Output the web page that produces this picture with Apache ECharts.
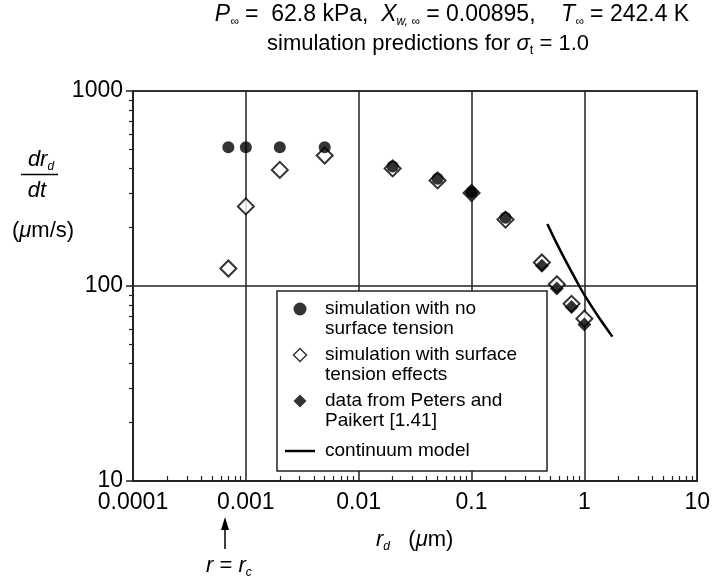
<!DOCTYPE html>
<html>
<head>
<meta charset="utf-8">
<script src="https://cdn.jsdelivr.net/npm/echarts@6/dist/echarts.min.js"></script>
<style>
  html, body { margin: 0; padding: 0; background: #fff; }
  #chart { width: 713px; height: 576px; }
</style>
</head>
<body>
<div id="chart"></div>
<script>
const FONT = "'Liberation Sans', Arial, sans-serif";

// r_d (um) and dr_d/dt (um/s)
const noTensionR = [0.0007, 0.001, 0.002, 0.005, 0.02, 0.05, 0.1, 0.2];
const noTensionV = [515, 515, 515, 515, 410, 355, 303, 224];

const tensionR = [0.0007, 0.001, 0.002, 0.005, 0.02, 0.05, 0.1, 0.2, 0.42, 0.57, 0.77, 1.0];
const tensionV = [123, 256, 394, 467, 401, 348, 300, 219, 132, 102, 81, 68];

const petersR = [0.1, 0.42, 0.57, 0.77, 1.0];
const petersV = [300, 127, 97, 78, 63.5];

const continuumR = [0.47, 0.55, 0.7, 0.885, 1.0, 1.3, 1.77];
const continuumV = [208, 172, 131, 102, 90, 71, 55];

const xTickValues = [0.0001, 0.001, 0.01, 0.1, 1, 10];
const xTickLabels = ["0.0001", "0.001", "0.01", "0.1", "1", "10"];
const yTickValues = [10, 100, 1000];
const yTickLabels = ["10", "100", "1000"];
const minorMult = [2, 3, 4, 5, 6, 7, 8, 9];

const names = [
  "simulation with no\nsurface tension",
  "simulation with surface\ntension effects",
  "data from Peters and\nPaikert [1.41]",
  "continuum model"
];

const pairs = (xs, ys) => xs.map((x, i) => [x, ys[i]]);
const minors = (decades) => decades.flatMap((d) => minorMult.map((m) => +(m * d).toPrecision(3)));
const labelOf = (vals, labels) => (v) => {
  const i = vals.findIndex((t) => Math.abs(Math.log10(t) - Math.log10(v)) < 1e-6);
  return i < 0 ? "" : labels[i];
};

const DIAMOND = "path://M7,0L14,7L7,14L0,7Z";

const chart = echarts.init(document.getElementById("chart"));

const rich = {
  n: { fontSize: 22, fontFamily: FONT, lineHeight: 26, color: "#000" },
  i: { fontSize: 22, fontFamily: FONT, fontStyle: "italic", lineHeight: 26, color: "#000" },
  s: { fontSize: 12, fontFamily: FONT, fontStyle: "italic", verticalAlign: "bottom", lineHeight: 10, color: "#000" },
  r: { fontSize: 13, fontFamily: FONT, verticalAlign: "bottom", lineHeight: 10, color: "#000" },
  tn: { fontSize: 23, fontFamily: FONT, lineHeight: 26, color: "#000" },
  ti: { fontSize: 23, fontFamily: FONT, fontStyle: "italic", lineHeight: 26, color: "#000" }
};

chart.setOption({
  animation: false,
  backgroundColor: "#fff",
  grid: { left: 133, right: 11, top: 91, bottom: 95, show: true, borderColor: "#222", borderWidth: 1.5 },
  xAxis: [
    {
      type: "log", logBase: 10, min: 0.0001, max: 10,
      axisLine: { lineStyle: { color: "#222", width: 1.5 } },
      axisTick: { show: false },
      axisLabel: { fontSize: 23, fontFamily: FONT, color: "#000", margin: 10, formatter: labelOf(xTickValues, xTickLabels) },
      splitLine: { show: true, lineStyle: { color: "#222", width: 1.5 } }
    },
    {
      type: "log", logBase: 10, min: 0.0001, max: 10, position: "bottom", offset: 0,
      axisLine: { show: false },
      axisTick: { show: true, inside: true, length: 5, lineStyle: { color: "#222", width: 1.2 }, customValues: minors([0.0001, 0.001, 0.01, 0.1, 1]) },
      axisLabel: { show: false },
      splitLine: { show: false }
    }
  ],
  yAxis: [
    {
      type: "log", logBase: 10, min: 10, max: 1000,
      axisLine: { lineStyle: { color: "#222", width: 1.5 } },
      axisTick: { show: true, length: 7, lineStyle: { color: "#222", width: 1.5 } },
      axisLabel: { fontSize: 23, fontFamily: FONT, color: "#000", margin: 10, formatter: labelOf(yTickValues, yTickLabels) },
      splitLine: { show: true, lineStyle: { color: "#222", width: 1.5 } }
    },
    {
      type: "log", logBase: 10, min: 10, max: 1000, position: "left", offset: 0,
      axisLine: { show: false },
      axisTick: { show: true, length: 4, lineStyle: { color: "#222", width: 1.2 }, customValues: minors([10, 100]) },
      axisLabel: { show: false },
      splitLine: { show: false }
    }
  ],
  legend: {
    orient: "vertical", left: 285, top: 279, padding: 0,
    itemWidth: 30, itemHeight: 13, itemGap: -14, symbolKeepAspect: true,
    // leading blank line keeps the icon level with the first text line
    formatter: (name) => (name.indexOf("\n") >= 0 ? "\n" + name : "\n" + name + "\n"),
    textStyle: { fontSize: 19, lineHeight: 20, fontFamily: FONT, color: "#000", padding: [0, 0, 0, 5] },
    data: [
      { name: names[0], icon: "circle", itemStyle: { color: "#000" } },
      { name: names[1], icon: DIAMOND, itemStyle: { color: "#fff", borderColor: "#000", borderWidth: 1.5 } },
      { name: names[2], icon: DIAMOND, itemStyle: { color: "#000" } },
      { name: names[3], icon: "path://M0,0L30,0L30,2.5L0,2.5Z", itemStyle: { color: "#000" }, textStyle: { padding: [8, 0, 0, 5] } }
    ]
  },
  series: [
    {
      name: names[1], type: "scatter", data: pairs(tensionR, tensionV), z: 2,
      symbol: "emptyDiamond", symbolSize: 16,
      itemStyle: { color: "#000", borderWidth: 1.5 }
    },
    {
      name: names[2], type: "scatter", data: pairs(petersR, petersV), z: 3,
      symbol: "diamond", symbolSize: 14, itemStyle: { color: "#000" }
    },
    {
      name: names[0], type: "scatter", data: pairs(noTensionR, noTensionV), z: 4,
      symbol: "circle", symbolSize: 12, itemStyle: { color: "#000" }
    },
    {
      name: names[3], type: "line", data: pairs(continuumR, continuumV), z: 4,
      smooth: 0.3, symbol: "none", lineStyle: { color: "#000", width: 2.5 }, itemStyle: { color: "#000" }
    }
  ],
  graphic: [
    // legend frame
    { type: "rect", z: 3, shape: { x: 277, y: 291, width: 270, height: 180 }, style: { fill: "#fff", stroke: "#222", lineWidth: 1.5 } },
    // title lines
    {
      type: "text", x: 452, y: 15, z: 10,
      style: {
        text: "{ti|P}{s|∞}{tn| =  62.8 kPa,  }{ti|X}{s|w, ∞}{tn| = 0.00895,    }{ti|T}{s|∞}{tn| = 242.4 K}",
        align: "center", verticalAlign: "middle", rich: rich
      }
    },
    {
      type: "text", x: 428, y: 44, z: 10,
      style: { text: "{n|simulation predictions for }{i|σ}{r|t}{n| = 1.0}", align: "center", verticalAlign: "middle", rich: rich }
    },
    // y axis name
    { type: "text", x: 41, y: 160, z: 10, style: { text: "{i|dr}{s|d}", align: "center", verticalAlign: "middle", rich: rich } },
    { type: "line", z: 10, shape: { x1: 21, y1: 174.5, x2: 58, y2: 174.5 }, style: { stroke: "#000", lineWidth: 1.5 } },
    { type: "text", x: 37, y: 191, z: 10, style: { text: "{i|dt}", align: "center", verticalAlign: "middle", rich: rich } },
    { type: "text", x: 43, y: 231, z: 10, style: { text: "{n|(}{i|μ}{n|m/s)}", align: "center", verticalAlign: "middle", rich: rich } },
    // x axis name
    { type: "text", x: 376, y: 540, z: 10, style: { text: "{i|r}{s|d}{n|   (}{i|μ}{n|m)}", align: "left", verticalAlign: "middle", rich: rich } },
    // r = r_c marker
    { type: "line", z: 10, shape: { x1: 225, y1: 527, x2: 225, y2: 549 }, style: { stroke: "#000", lineWidth: 1.5 } },
    { type: "polygon", z: 10, shape: { points: [[225, 517], [221, 530], [229, 530]] }, style: { fill: "#000" } },
    { type: "text", x: 206, y: 566, z: 10, style: { text: "{i|r}{n| = }{i|r}{s|c}", align: "left", verticalAlign: "middle", rich: rich } }
  ]
});
</script>
</body>
</html>
